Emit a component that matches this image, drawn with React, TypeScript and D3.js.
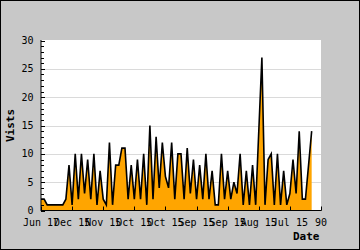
import React from "react";
import * as d3 from "d3";

const visits: number[] = [
  2, 2, 1, 1, 1, 1, 1, 1, 2, 8,
  1, 10, 2, 10, 3, 9, 2, 10, 1, 7,
  2, 1, 12, 1, 8, 8, 11, 11, 2, 8,
  2, 9, 2, 10, 1, 15, 2, 13, 4, 12,
  6, 4, 12, 2, 10, 10, 2, 11, 3, 9,
  2, 8, 2, 10, 2, 7, 1, 1, 10, 2,
  7, 2, 5, 3, 10, 1, 7, 1, 8, 1,
  14, 27, 1, 9, 10, 1, 10, 1, 7, 1,
  3, 9, 3, 14, 2, 2, 8, 14,
];

const xTickValues: number[] = [0, 10, 20, 30, 40, 50, 60, 70, 80, 90];
const xTickLabels: string[] = [
  "Jun 17", "Dec 15", "Nov 15", "Oct 15", "Oct 15",
  "Sep 15", "Sep 15", "Aug 15", "Jul 15", "90",
];
const yMajorTicks: number[] = [0, 5, 10, 15, 20, 25, 30];
const yMinorTicks: number[] = d3.range(0, 31, 1);

export default function App() {
  const W = 360;
  const H = 250;
  const left = 41;
  const right = 321;
  const top = 40.5;
  const bottom = 210.5;

  const x = d3.scaleLinear().domain([0, 90]).range([left, right]);
  const y = d3.scaleLinear().domain([0, 30]).range([bottom, top]);

  const area = d3
    .area<number>()
    .x((_, i) => x(i))
    .y0(y(0))
    .y1((d) => y(d));
  const line = d3
    .line<number>()
    .x((_, i) => x(i))
    .y((d) => y(d));

  const mono = "'DejaVu Sans Mono', 'Liberation Mono', monospace";

  return (
    <svg
      width={W}
      height={H}
      style={{ position: "absolute", left: 0, top: 0 }}
      xmlns="http://www.w3.org/2000/svg"
    >
      <rect x={0.5} y={0.5} width={W - 1} height={H - 1} fill="#c8c8c8" stroke="#000" strokeWidth={1} />
      <rect x={left} y={top - 0.5} width={right - left} height={bottom - top + 0.5} fill="#ffffff" />
      {yMajorTicks.slice(1, -1).map((t) => (
        <line key={"g" + t} x1={left} x2={right} y1={Math.round(y(t)) + 0.5} y2={Math.round(y(t)) + 0.5} stroke="#dadada" strokeWidth={1} />
      ))}
      <path d={area(visits) || ""} fill="#ffa500" />
      <path d={line(visits) || ""} fill="none" stroke="#000" strokeWidth={1.6} strokeLinejoin="miter" />
      {/* axes */}
      <line x1={left} x2={left} y1={top - 0.5} y2={bottom + 0.5} stroke="#000" strokeWidth={1} />
      <line x1={left} x2={right + 0.5} y1={bottom} y2={bottom} stroke="#000" strokeWidth={1} />
      {yMinorTicks.map((t) => (
        <line
          key={"ym" + t}
          x1={left}
          x2={left + (t % 5 === 0 ? 4 : 3)}
          y1={Math.round(y(t)) + 0.5}
          y2={Math.round(y(t)) + 0.5}
          stroke="#000"
          strokeWidth={1}
        />
      ))}
      {xTickValues.map((t) => (
        <line key={"xt" + t} x1={Math.round(x(t)) + 0.5} x2={Math.round(x(t)) + 0.5} y1={bottom} y2={bottom - 4} stroke="#000" strokeWidth={1} />
      ))}
      {yMajorTicks.map((t) => (
        <text key={"yl" + t} x={33.5} y={y(t)} dy="0.36em" textAnchor="end" fontFamily={mono} fontSize={10} fill="#000">
          {t}
        </text>
      ))}
      {xTickValues.map((t, i) => (
        <text key={"xl" + t} x={x(t)} y={225.5} textAnchor="middle" fontFamily={mono} fontSize={10} fill="#000">
          {xTickLabels[i]}
        </text>
      ))}
      <text x={319.5} y={240} textAnchor="end" fontFamily={mono} fontSize={11} fontWeight="bold" fill="#000">
        Date
      </text>
      <text
        transform={`translate(14,125.5) rotate(-90)`}
        textAnchor="middle"
        fontFamily={mono}
        fontSize={11}
        fontWeight="bold"
        fill="#000"
      >
        Vists
      </text>
    </svg>
  );
}
